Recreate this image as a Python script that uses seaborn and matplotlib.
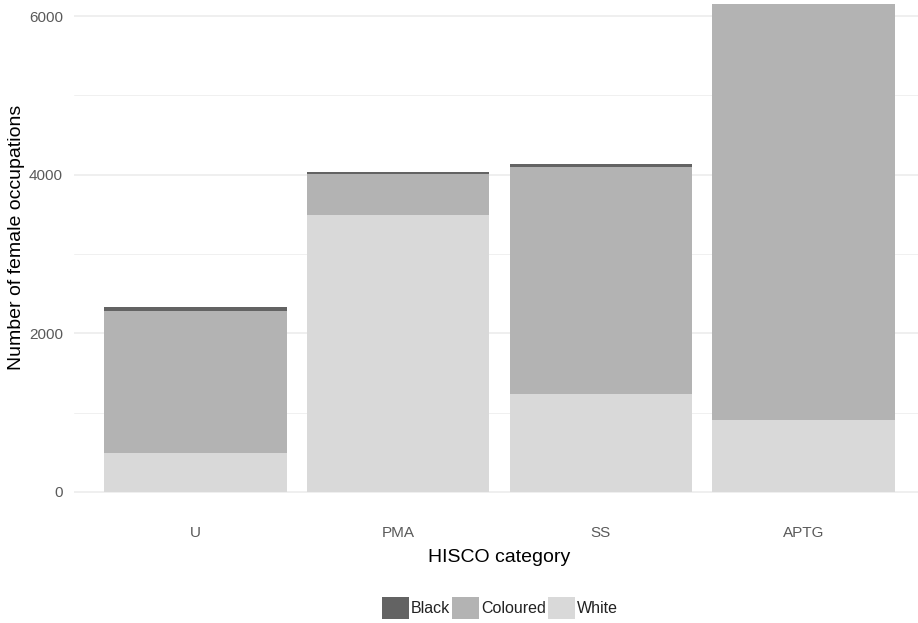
#Stacked bar chart of female occupations by HISCO category

import pandas as pd
import matplotlib
matplotlib.use("Agg")
import matplotlib.pyplot as plt
import seaborn as sns
from matplotlib.patches import Patch

#Values
categories = ["U", "PMA", "SS", "APTG"]
white = [488, 3488, 1231, 908]
coloured = [1793, 524, 2869, 5242]
black = [47, 22, 31, 6]

groups = ["Black", "Coloured", "White"]
colours = {"Black": "#636363", "Coloured": "#b3b3b3", "White": "#d9d9d9"}

#Cumulative heights so the bars can be drawn over each other
df = pd.DataFrame({"category": categories, "White": white,
                   "Coloured": coloured, "Black": black})
df["top_white"] = df["White"]
df["top_coloured"] = df["White"] + df["Coloured"]
df["top_black"] = df["top_coloured"] + df["Black"]

sns.set_theme(style="white")
plt.rcParams["font.family"] = ["Liberation Sans", "DejaVu Sans"]

fig = plt.figure(figsize=(9.18, 6.23), dpi=100)
ax = fig.add_axes([0.0805, 0.1708, 0.9195, 0.8292])

#Grid lines first (minimal theme look)
for v in [1000, 3000, 5000]:
    ax.axhline(v, color="#f0f0f0", lw=0.7, zorder=0)
for v in [0, 2000, 4000, 6000]:
    ax.axhline(v, color="#ebebeb", lw=1.1, zorder=0)

bar_kws = dict(order=categories, width=0.9, saturation=1, ax=ax, zorder=2,
               edgecolor="none", linewidth=0)
sns.barplot(data=df, x="category", y="top_black", color=colours["Black"], **bar_kws)
sns.barplot(data=df, x="category", y="top_coloured", color=colours["Coloured"], **bar_kws)
sns.barplot(data=df, x="category", y="top_white", color=colours["White"], **bar_kws)

ax.set_xlim(-0.6, 3.565)
ax.set_ylim(-310, 6202)
ax.set_yticks([0, 2000, 4000, 6000])
ax.set_xlabel("")
ax.set_ylabel("")
for s in ax.spines.values():
    s.set_visible(False)
ax.tick_params(axis="both", length=0, labelsize=11, labelcolor="#5a5a5a")
ax.tick_params(axis="x", pad=7)
ax.tick_params(axis="y", pad=8)

fig.text(499.5 / 918, 1 - 558 / 623, "HISCO category", ha="center",
         va="center", fontsize=14, color="black")
fig.text(17 / 918, 1 - 237 / 623, "Number of female occupations",
         ha="center", va="center", rotation=90, fontsize=14, color="black")

handles = [Patch(facecolor=colours[g], edgecolor="none", label=g) for g in groups]
fig.legend(handles=handles, loc="center", bbox_to_anchor=(500 / 918, 1 - 608 / 623),
           ncol=3, frameon=False, fontsize=11.5, handlelength=1.7, handleheight=1.7,
           handletextpad=0.1, columnspacing=0.15, borderpad=0, labelcolor="#222222")

fig.savefig("out.png", dpi=100)
